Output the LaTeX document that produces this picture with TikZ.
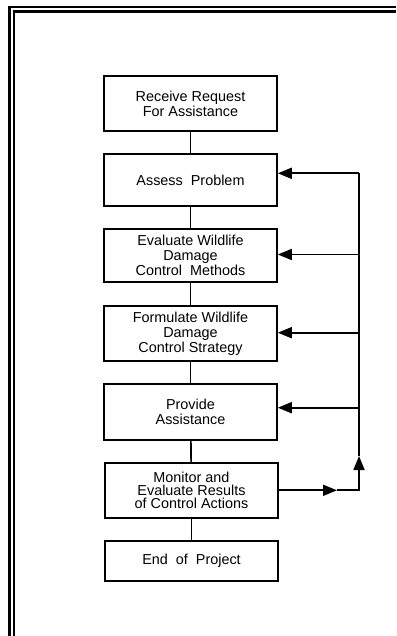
\documentclass[tikz,border=0pt]{standalone}
\usepackage{fontspec}
\setmainfont{Liberation Sans}
\usetikzlibrary{arrows.meta}
\begin{document}
\begin{tikzpicture}[x=1pt,y=-1pt,
  stepbox/.style={draw,line width=1.6pt,minimum width=173pt,inner sep=0pt,align=center,
    font=\fontsize{14.4}{15}\selectfont},
  link/.style={line width=1.7pt},
  fb/.style={line width=1.8pt},
  tip/.style={-{Triangle[length=14pt,width=11pt]}},
  frameline/.style={line width=2.4pt}]
\useasboundingbox (0,0) rectangle (396,636);
% frame
\draw[frameline] (9.5,636) -- (9.5,7.3) -- (396,7.3);
\draw[frameline] (13.7,636) -- (13.7,11.5) -- (396,11.5);
% boxes
\node[stepbox,minimum height=55pt] (receive) at (190.5,103.5) {Receive Request\\For Assistance};
\node[stepbox,minimum height=52pt] (assess) at (190.5,180) {Assess\ \ Problem};
\node[stepbox,minimum height=53pt] (evaluate) at (190.5,255.3) {Evaluate Wildlife\\Damage\\Control\ \ Methods};
\node[stepbox,minimum height=55pt] (formulate) at (190.5,333.5) {Formulate Wildlife\\Damage\\Control Strategy};
\node[stepbox,minimum height=56pt] (provide) at (190.5,412) {Provide\\Assistance};
\node[stepbox,minimum height=55pt,font=\fontsize{14.4}{13}\selectfont] (monitor) at (191.5,490.3) {Monitor and\\Evaluate Results\\of Control Actions};
\node[stepbox,minimum height=40pt] (end) at (191.5,560.8) {End\ \ of\ \ Project};
% vertical links
\draw[link] (receive) -- (assess);
\draw[link] (assess) -- (evaluate);
\draw[link] (evaluate) -- (formulate);
\draw[link] (formulate) -- (provide);
\draw[link] (provide) -- (monitor);
\draw[link] (monitor) -- (end);
% feedback loop
\coordinate (top) at (359,173.3);
\coordinate (f2) at (359,254.5);
\coordinate (f3) at (359,332.7);
\coordinate (f4) at (359,407.7);
\coordinate (mid) at (337,490.3);
\coordinate (corner) at (359,490.3);
\coordinate (up) at (359,456);
\draw[fb,tip] (top) -- (assess.east |- top);
\draw[fb,tip] (f2) -- (evaluate.east |- f2);
\draw[fb,tip] (f3) -- (formulate.east |- f3);
\draw[fb,tip] (f4) -- (provide.east |- f4);
\draw[fb,tip] (monitor.east |- mid) -- (mid);
\draw[fb,tip] (mid) -- (corner) -- (up);
\draw[fb] (up) -- (top);
\end{tikzpicture}
\end{document}
